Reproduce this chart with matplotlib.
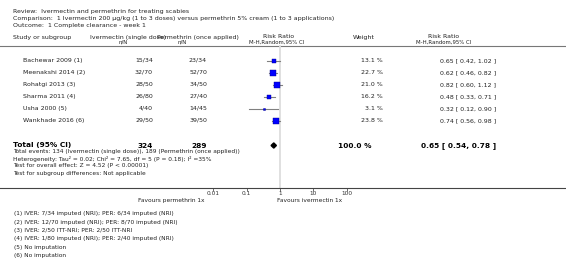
import numpy as np
import matplotlib
import matplotlib.pyplot as plt
matplotlib.use('Agg')

# Study data
studies = ['Bachewar 2009 (1)', 'Meenakshi 2014 (2)', 'Rohatgi 2013 (3)',
           'Sharma 2011 (4)', 'Usha 2000 (5)', 'Wankhade 2016 (6)']
iver_events = [15, 32, 28, 26, 4, 29]
iver_n = [34, 70, 50, 80, 40, 50]
perm_events = [23, 52, 34, 27, 14, 39]
perm_n = [34, 70, 50, 40, 45, 50]
weights = [13.1, 22.7, 21.0, 16.2, 3.1, 23.8]
rr = [0.65, 0.62, 0.82, 0.48, 0.32, 0.74]
rr_lo = [0.42, 0.46, 0.60, 0.33, 0.12, 0.56]
rr_hi = [1.02, 0.82, 1.12, 0.71, 0.90, 0.98]
total_rr, total_lo, total_hi = 0.65, 0.54, 0.78

ticks = [0.01, 0.1, 1, 10, 100]
tick_labels = ['0.01', '0.1', '1', '10', '100']

footnotes = ['(1) IVER: 7/34 imputed (NRI); PER: 6/34 imputed (NRI)',
             '(2) IVER: 12/70 imputed (NRI); PER: 8/70 imputed (NRI)',
             '(3) IVER: 2/50 ITT-NRI; PER: 2/50 ITT-NRI',
             '(4) IVER: 1/80 imputed (NRI); PER: 2/40 imputed (NRI)',
             '(5) No imputation',
             '(6) No imputation']

W, H = 566, 260
fig = plt.figure(figsize=(W / 100, H / 100), dpi=100)

# text layer in pixel coords
tax = fig.add_axes([0, 0, 1, 1])
tax.set_xlim(0, W)
tax.set_ylim(H, 0)
tax.axis('off')

# forest layer, log x; 1 decade = 33.33 px, RR=1 at x=280
ax = fig.add_axes([0, 0, 1, 1])
ax.patch.set_alpha(0)
ppd = 33.33
ax.set_xscale('log')
ax.set_xlim(10 ** (-280 / ppd), 10 ** ((W - 280) / ppd))
ax.set_ylim(H, 0)
for s in ['top', 'left', 'right']:
    ax.spines[s].set_visible(False)
ax.spines['bottom'].set_position(('data', 188))
ax.spines['bottom'].set_color('#444444')
ax.spines['bottom'].set_linewidth(0.8)
ax.set_yticks([])
ax.set_xticks(ticks)
ax.set_xticklabels(tick_labels)
ax.minorticks_off()
ax.tick_params(axis='x', length=2, width=0.5, labelsize=4.2, pad=0.5,
               colors='#333333')

fs = 4.5
col = '#222222'

# title
tax.text(13, 11, 'Review:  Ivermectin and permethrin for treating scabies', fontsize=fs, color=col, va='center')
tax.text(13, 18.3, 'Comparison:  1 Ivermectin 200 µg/kg (1 to 3 doses) versus permethrin 5% cream (1 to 3 applications)',
         fontsize=fs, color=col, va='center')
tax.text(13, 25, 'Outcome:  1 Complete clearance - week 1', fontsize=fs, color=col, va='center')

# headers
tax.text(13, 37, 'Study or subgroup', fontsize=fs, color=col, va='center')
tax.text(90, 37, 'Ivermectin (single dose)', fontsize=fs, color=col, va='center')
tax.text(239, 37, 'Permethrin (once applied)', fontsize=fs, color=col, va='center', ha='right')
tax.text(123, 42, 'n/N', fontsize=fs - 0.6, color=col, va='center', ha='center')
tax.text(182, 42, 'n/N', fontsize=fs - 0.6, color=col, va='center', ha='center')
tax.text(279, 37, 'Risk Ratio', fontsize=fs, color=col, va='center', ha='center')
tax.text(277, 42, 'M-H,Random,95% CI', fontsize=fs - 0.6, color=col, va='center', ha='center')
tax.text(364, 37, 'Weight', fontsize=fs, color=col, va='center', ha='center')
tax.text(444, 37, 'Risk Ratio', fontsize=fs, color=col, va='center', ha='center')
tax.text(444, 42, 'M-H,Random,95% CI', fontsize=fs - 0.6, color=col, va='center', ha='center')
tax.axhline(45.5, color='#777777', lw=0.8)

# line of no effect
ax.plot([1, 1], [45.5, 188], color='#dddddd', lw=1.3, zorder=1)

ys = 60.5 + 12 * np.arange(len(studies))
for i, y in enumerate(ys):
    tax.text(23, y, studies[i], fontsize=fs, color=col, va='center')
    tax.text(153, y, f'{iver_events[i]}/{iver_n[i]}', fontsize=fs, color=col, va='center', ha='right')
    tax.text(207, y, f'{perm_events[i]}/{perm_n[i]}', fontsize=fs, color=col, va='center', ha='right')
    tax.text(383, y, f'{weights[i]:.1f} %', fontsize=fs, color=col, va='center', ha='right')
    tax.text(496, y, f'{rr[i]:.2f} [ {rr_lo[i]:.2f}, {rr_hi[i]:.2f} ]', fontsize=fs, color=col,
             va='center', ha='right')
    ax.plot([rr_lo[i], rr_hi[i]], [y, y], color='#808080', lw=0.8, zorder=2)
    ax.plot(rr[i], y, marker='s', markersize=0.8 * np.sqrt(weights[i]),
            markerfacecolor='#0000ff', markeredgecolor='#000088', markeredgewidth=0.3, zorder=3)

# total row
yt = 145.5
tax.text(13, yt, 'Total (95% CI)', fontsize=5.3, fontweight='bold', color='black', va='center')
tax.text(153, yt, str(sum(iver_n)), fontsize=5.3, fontweight='bold', color='black', va='center', ha='right')
tax.text(207, yt, str(sum(perm_n)), fontsize=5.3, fontweight='bold', color='black', va='center', ha='right')
tax.text(371, yt, '100.0 %', fontsize=5.3, fontweight='bold', color='black', va='center', ha='right')
tax.text(496, yt, f'{total_rr:.2f} [ {total_lo:.2f}, {total_hi:.2f} ]', fontsize=5.3,
         fontweight='bold', color='black', va='center', ha='right')
ax.fill([total_lo, total_rr, total_hi, total_rr], [yt, yt - 2.6, yt, yt + 2.6],
        color='black', zorder=3)

info = [f'Total events: {sum(iver_events)} (Ivermectin (single dose)), {sum(perm_events)} (Permethrin (once applied))',
        'Heterogeneity: Tau² = 0.02; Chi² = 7.65, df = 5 (P = 0.18); I² =35%',
        'Test for overall effect: Z = 4.52 (P < 0.00001)',
        'Test for subgroup differences: Not applicable']
for k, line in enumerate(info):
    tax.text(13, 151 + 7.5 * k, line, fontsize=fs - 0.3, color=col, va='center')

# favours labels
tax.text(204, 200.5, 'Favours permethrin 1x', fontsize=fs - 0.3, color=col, va='center', ha='right')
tax.text(277, 200.5, 'Favours ivermectin 1x', fontsize=fs - 0.3, color=col, va='center')

for k, line in enumerate(footnotes):
    tax.text(14, 214 + 8.3 * k, line, fontsize=fs - 0.3, color=col, va='center')

fig.savefig('out.png', dpi=100)
